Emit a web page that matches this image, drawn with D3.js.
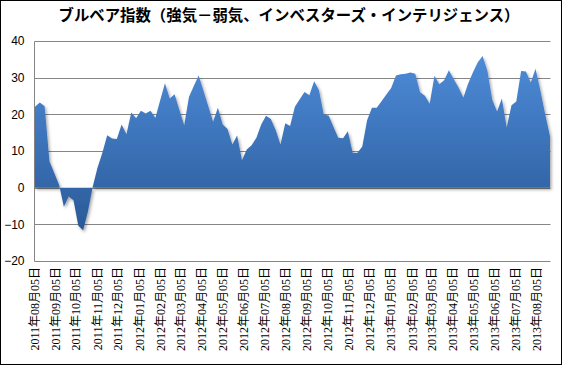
<!DOCTYPE html>
<html><head><meta charset="utf-8">
<script src="https://cdn.jsdelivr.net/npm/d3@7/dist/d3.min.js"></script>
<style>html,body{margin:0;padding:0;background:#fff;}svg{display:block;}</style>
</head><body>
<script>
// ---- data ----
const title = "ブルベア指数（強気－弱気、インベスターズ・インテリジェンス）";
const startDate = "2011-08-05";   // first weekly observation
const values = [
  22.1, 23.2, 22.2, 7.2, 4.0, 0.8, -5.2, -2.4, -3.4, -10.4,
  -11.6, -6.5, 0.3, 5.5, 9.5, 14.3, 13.4, 13.3, 17.2, 14.6,
  20.5, 18.9, 21.0, 20.2, 21.0, 19.0, 23.8, 28.5, 24.3, 25.5,
  21.2, 17.0, 24.8, 27.7, 30.6, 26.4, 22.2, 18.0, 21.8, 17.2,
  16.0, 11.8, 14.2, 7.5, 10.4, 11.6, 13.6, 17.2, 19.6, 18.7,
  15.7, 11.8, 17.6, 16.8, 22.1, 24.1, 26.1, 25.2, 29.0, 26.6,
  19.9, 19.7, 16.6, 13.6, 13.5, 15.4, 9.5, 9.5, 11.2, 18.4,
  21.8, 21.8, 23.6, 25.4, 27.2, 30.6, 30.9, 31.1, 31.4, 31.1,
  26.0, 25.1, 22.9, 30.5, 28.2, 29.3, 32.0, 29.6, 27.3, 24.6,
  28.4, 31.5, 34.2, 35.9, 31.8, 24.0, 20.8, 24.3, 16.4, 22.5,
  23.5, 31.8, 31.7, 28.7, 32.4, 26.5, 20.0, 14.0
];
const tickLabels = [
  "2011年08月05日","2011年09月05日","2011年10月05日","2011年11月05日","2011年12月05日",
  "2012年01月05日","2012年02月05日","2012年03月05日","2012年04月05日","2012年05月05日",
  "2012年06月05日","2012年07月05日","2012年08月05日","2012年09月05日","2012年10月05日",
  "2012年11月05日","2012年12月05日","2013年01月05日","2013年02月05日","2013年03月05日",
  "2013年04月05日","2013年05月05日","2013年06月05日","2013年07月05日","2013年08月05日"
];
const yTicks = [-20, -10, 0, 10, 20, 30, 40];

// ---- setup ----
const W = 562, H = 365;
const parseISO = d3.timeParse("%Y-%m-%d");
const parseJP = d3.timeParse("%Y年%m月%d日");
const t0 = parseISO(startDate);
const dates = values.map((v, i) => d3.timeDay.offset(t0, 7 * i));
const data = values.map((v, i) => ({date: dates[i], value: v}));

const svg = d3.select("body").append("svg").attr("width", W).attr("height", H);

const defs = svg.append("defs");
const grad = defs.append("linearGradient").attr("id", "fillGrad")
  .attr("x1", 0).attr("y1", 0).attr("x2", 0).attr("y2", 1);
grad.append("stop").attr("offset", "0%").attr("stop-color", "#4d8bd8");
grad.append("stop").attr("offset", "100%").attr("stop-color", "#2a5a98");
const filt = defs.append("filter").attr("id", "shadow")
  .attr("x", "-5%").attr("y", "-5%").attr("width", "110%").attr("height", "115%");
filt.append("feDropShadow").attr("dx", 1.5).attr("dy", 2).attr("stdDeviation", 1.5)
  .attr("flood-color", "#000").attr("flood-opacity", 0.35);

svg.append("rect").attr("x", 0.5).attr("y", 0.5).attr("width", W - 1).attr("height", H - 1)
  .attr("fill", "#fff").attr("stroke", "#000").attr("stroke-width", 1);

const x = d3.scaleTime().domain([dates[0], dates[dates.length - 1]]).range([35, 550]);
const y = d3.scaleLinear().domain([-20, 40]).range([261, 41]);

// title
svg.append("text").attr("x", 289).attr("y", 21).attr("text-anchor", "middle")
  .attr("font-family", "'Noto Sans CJK JP', sans-serif").attr("font-weight", "bold")
  .attr("font-size", 15.4).attr("fill", "#000").text(title);

// gridlines
svg.append("g").selectAll("line").data(yTicks).join("line")
  .attr("x1", 34.5).attr("x2", 550.5)
  .attr("y1", d => Math.round(y(d)) + 0.5).attr("y2", d => Math.round(y(d)) + 0.5)
  .attr("stroke", "#868686").attr("stroke-width", 1);

// y axis
const yAxis = svg.append("g").attr("transform", "translate(34.5,0)")
  .call(d3.axisLeft(y).tickValues(yTicks).tickSize(0).tickPadding(10).tickFormat(d3.format("d")));
yAxis.select(".domain").attr("stroke", "#868686").attr("d", `M0,${Math.round(y(40))+0.5}V${Math.round(y(-20))+0.5}`);
yAxis.selectAll("text").attr("font-family", "'Liberation Sans', Arial, sans-serif")
  .attr("font-size", 12).attr("fill", "#000");

// area
const area = d3.area().x(d => x(d.date)).y0(y(0)).y1(d => y(d.value));
svg.append("path").datum(data).attr("d", area)
  .attr("fill", "url(#fillGrad)").attr("filter", "url(#shadow)");

// x axis labels
const tickDates = tickLabels.map(parseJP);
const xAxis = svg.append("g").attr("transform", `translate(0,${Math.round(y(-20))})`)
  .call(d3.axisBottom(x).tickValues(tickDates).tickSize(0)
    .tickFormat((d, i) => tickLabels[i]));
xAxis.select(".domain").remove();
xAxis.selectAll("text")
  .attr("font-family", "'Liberation Serif', 'Noto Sans CJK JP', serif")
  .attr("font-size", 12).attr("fill", "#000")
  .attr("text-anchor", "end")
  .attr("transform", "rotate(-90)")
  .attr("x", -6).attr("y", 0).attr("dy", "0.25em");
</script>
</body></html>
